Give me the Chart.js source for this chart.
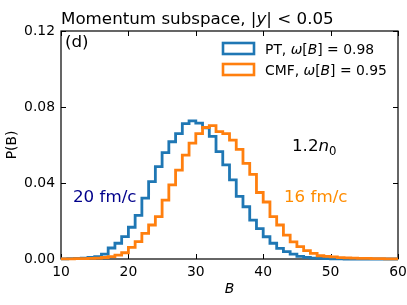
<!DOCTYPE html>
<html>
<head>
<meta charset="utf-8">
<script src="https://cdn.jsdelivr.net/npm/chart.js@4"></script>
<style>
  html, body { margin: 0; padding: 0; background: #fff; }
  #wrap { width: 407px; height: 305px; }
</style>
</head>
<body>
<div id="wrap"><canvas id="histChart"></canvas></div>
<script>
// bin edges of the baryon-number histogram (width 1)
var binEdges = [10, 11, 12, 13, 14, 15, 16, 17, 18, 19, 20, 21, 22, 23, 24, 25, 26, 27, 28, 29,
  30, 31, 32, 33, 34, 35, 36, 37, 38, 39, 40, 41, 42, 43, 44, 45, 46, 47, 48, 49,
  50, 51, 52, 53, 54, 55, 56, 57, 58, 59, 60];

// PT, 20 fm/c
var ptValues = [0.0001, 0.0001, 0.0002, 0.0003, 0.0005, 0.0008, 0.0012, 0.0026, 0.0058, 0.0083,
  0.0118, 0.0167, 0.0230, 0.0320, 0.0407, 0.0486, 0.0560, 0.0617, 0.0660, 0.0712,
  0.0727, 0.0715, 0.0690, 0.0645, 0.0565, 0.0495, 0.0416, 0.0330, 0.0275, 0.0205,
  0.0160, 0.0117, 0.0083, 0.0056, 0.0039, 0.0026, 0.0014, 0.0009, 0.0005, 0.0003,
  0.0002, 0.0001, 0.0001, 0, 0, 0, 0, 0, 0, 0];

// CMF, 16 fm/c
var cmfValues = [0.0001, 0.0001, 0.0001, 0.0002, 0.0002, 0.0003, 0.0005, 0.0008, 0.0012, 0.0020,
  0.0033, 0.0061, 0.0091, 0.0135, 0.0179, 0.0223, 0.0310, 0.0390, 0.0468, 0.0547,
  0.0610, 0.0660, 0.0692, 0.0702, 0.0670, 0.0660, 0.0626, 0.0577, 0.0503, 0.0445,
  0.0350, 0.0300, 0.0223, 0.0179, 0.0126, 0.0090, 0.0065, 0.0044, 0.0030, 0.0017,
  0.0014, 0.0011, 0.0007, 0.0006, 0.0005, 0.0003, 0.0003, 0.0002, 0.0002, 0.0001];

var xTicks = [10, 20, 30, 40, 50, 60];
var yTicks = [0, 0.04, 0.08, 0.12];

var FONT = "'DejaVu Sans', sans-serif";
var BLUE = '#1f77b4';
var ORANGE = '#ff7f0e';

// step outline: one point per left edge, plus the closing right edge
function stepPoints(vals) {
  var pts = [];
  for (var i = 0; i < vals.length; i++) pts.push({x: binEdges[i], y: vals[i]});
  pts.push({x: binEdges[vals.length], y: vals[vals.length - 1]});
  return pts;
}

// draw a run of text pieces (normal / italic / subscript) left to right
function drawRuns(ctx, x, y, runs, color) {
  ctx.save();
  ctx.fillStyle = color || '#000';
  ctx.textBaseline = 'alphabetic';
  ctx.textAlign = 'left';
  runs.forEach(function(r) {
    ctx.font = (r.italic ? 'italic ' : '') + r.size + 'px ' + FONT;
    ctx.fillText(r.t, x, y + (r.dy || 0));
    x += ctx.measureText(r.t).width;
  });
  ctx.restore();
}

var decorations = {
  id: 'decorations',
  beforeDatasetsDraw: function(chart) {
    var ctx = chart.ctx, a = chart.chartArea;
    var xs = chart.scales.x, ys = chart.scales.y;
    ctx.save();
    ctx.strokeStyle = '#000';
    ctx.lineWidth = 1.2;
    ctx.strokeRect(a.left, a.top, a.right - a.left, a.bottom - a.top);
    ctx.lineWidth = 1;
    ctx.beginPath();
    xTicks.forEach(function(v) {
      var px = Math.round(xs.getPixelForValue(v)) + 0.5;
      ctx.moveTo(px, a.bottom); ctx.lineTo(px, a.bottom - 5);
      ctx.moveTo(px, a.top); ctx.lineTo(px, a.top + 5);
    });
    yTicks.forEach(function(v) {
      var py = Math.round(ys.getPixelForValue(v)) + 0.5;
      ctx.moveTo(a.left, py); ctx.lineTo(a.left + 5, py);
      ctx.moveTo(a.right, py); ctx.lineTo(a.right - 5, py);
    });
    ctx.stroke();
    ctx.restore();
  },
  afterDraw: function(chart) {
    var ctx = chart.ctx, a = chart.chartArea;
    // title above the axes
    drawRuns(ctx, a.left, 24, [
      {t: 'Momentum subspace, |', size: 16.7},
      {t: 'y', size: 16.7, italic: true},
      {t: '| < 0.05', size: 16.7}
    ]);
    drawRuns(ctx, a.left + 4, 47, [{t: '(d)', size: 16.7}]);

    // legend
    var leg = [
      {color: BLUE, label: 'PT, ', val: '0.98', y: 43},
      {color: ORANGE, label: 'CMF, ', val: '0.95', y: 64}
    ];
    leg.forEach(function(l) {
      ctx.save();
      ctx.fillStyle = '#fff';
      ctx.strokeStyle = l.color;
      ctx.lineWidth = 2.6;
      ctx.fillRect(223, l.y, 31, 11);
      ctx.strokeRect(223, l.y, 31, 11);
      ctx.restore();
      drawRuns(ctx, 265, l.y + 11, [
        {t: l.label, size: 13.9},
        {t: '\u03c9', size: 13.9, italic: true},
        {t: '[', size: 13.9},
        {t: 'B', size: 13.9, italic: true},
        {t: '] = ' + l.val, size: 13.9}
      ]);
    });

    drawRuns(ctx, 292, 151, [
      {t: '1.2', size: 16.7},
      {t: 'n', size: 16.7, italic: true},
      {t: '0', size: 11.7, dy: 4}
    ]);
    drawRuns(ctx, 73, 202, [{t: '20 fm/c', size: 16.7}], 'darkblue');
    drawRuns(ctx, 284, 202, [{t: '16 fm/c', size: 16.7}], 'darkorange');
  }
};

var ctx = document.getElementById('histChart').getContext('2d');
var chart = new Chart(ctx, {
  type: 'line',
  data: {
    datasets: [{
      label: 'PT',
      data: stepPoints(ptValues),
      borderColor: BLUE,
      borderWidth: 2.8,
      stepped: 'after',
      pointRadius: 0,
      fill: false,
      clip: 4,
      order: 1
    }, {
      label: 'CMF',
      data: stepPoints(cmfValues),
      borderColor: ORANGE,
      borderWidth: 2.8,
      stepped: 'after',
      pointRadius: 0,
      fill: false,
      clip: 4,
      order: 0
    }]
  },
  options: {
    responsive: true,
    maintainAspectRatio: false,
    animation: false,
    layout: { padding: { left: 0, right: 9, top: 31, bottom: 0 } },
    plugins: {
      legend: { display: false },
      tooltip: { enabled: false }
    },
    scales: {
      x: {
        type: 'linear',
        min: 10,
        max: 60,
        afterFit: function(s) { s.height = 46; s.paddingLeft = 0; s.paddingRight = 0; },
        afterBuildTicks: function(s) { s.ticks = xTicks.map(function(v) { return {value: v}; }); },
        grid: { display: false, drawTicks: false },
        border: { display: false },
        ticks: { color: '#000', padding: 5, maxRotation: 0, font: { family: FONT, size: 13.9 } },
        title: {
          display: true,
          text: 'B',
          color: '#000',
          padding: { top: 0, bottom: 7 },
          font: { family: FONT, size: 13.9, style: 'italic' }
        }
      },
      y: {
        min: 0,
        max: 0.12,
        afterFit: function(s) { s.width = 61; s.paddingTop = 0; s.paddingBottom = 0; },
        afterBuildTicks: function(s) { s.ticks = yTicks.map(function(v) { return {value: v}; }); },
        grid: { display: false, drawTicks: false },
        border: { display: false },
        ticks: {
          color: '#000',
          padding: 6,
          font: { family: FONT, size: 13.9 },
          callback: function(v) { return v.toFixed(2); }
        },
        title: {
          display: true,
          text: 'P(B)',
          color: '#000',
          padding: { top: 4, bottom: 0 },
          font: { family: FONT, size: 13.9 }
        }
      }
    }
  },
  plugins: [decorations]
});
</script>
</body>
</html>
